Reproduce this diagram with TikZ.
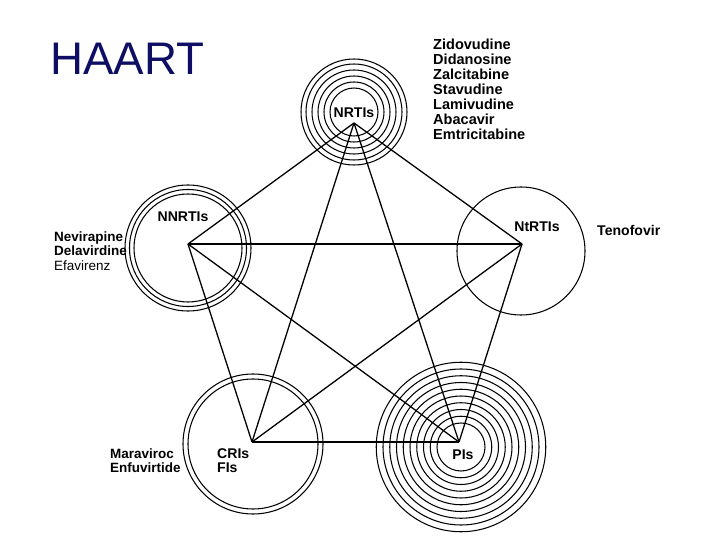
\documentclass[tikz,border=0pt]{standalone}
\usepackage{fontspec}
\setmainfont{Liberation Sans}
\usepackage{xcolor}
\definecolor{haartblue}{RGB}{14,14,100}

\tikzset{
  ring/.style={black, line width=0.9pt},
  link/.style={black, line width=1.1pt},
  drug/.style={inner sep=0pt, anchor=base west, font=\bfseries\fontsize{12}{14}\selectfont},
  cls/.style={inner sep=0pt, anchor=base, font=\bfseries\fontsize{12}{14}\selectfont}
}

\begin{document}
\begin{tikzpicture}[x=0.03cm, y=-0.03cm]
\useasboundingbox (0,0) rectangle (720,540);
\fill[white] (0,0) rectangle (720,540);

\node[inner sep=0pt, anchor=base west, text=haartblue, font=\fontsize{39}{44}\selectfont] (title) at (50,75) {HAART};

% rings round each class
\foreach \r in {24,30,36,42,48,53}
  \draw[ring] (354,112) circle (\r);
\foreach \r in {54,58.5,63}
  \draw[ring] (188,248) circle (\r);
\draw[ring] (521,251) circle (64);
\foreach \k in {0,...,9}
  \draw[ring] (461,447) circle ({24+6.75*\k});
\foreach \r in {65,70}
  \draw[ring] (253,444) circle (\r);

\coordinate (nrti) at (354,123);
\coordinate (nnrti) at (188,244);
\coordinate (ntrti) at (522,244);
\coordinate (cri) at (252,442);
\coordinate (pi) at (459,442);

\foreach \a/\b in {nrti/nnrti,nrti/ntrti,nrti/cri,nrti/pi,nnrti/ntrti,nnrti/cri,nnrti/pi,ntrti/cri,ntrti/pi}
  \draw[link] (\a) -- (\b);
\draw[black, line width=1.9pt] (cri) -- (pi);

\node[cls] (lnrti) at (354,118) {NRTIs};
\node[cls] (lnnrti) at (183,222) {NNRTIs};
\node[cls] (lntrti) at (537,232) {NtRTIs};
\node[cls] (lpi) at (463,459) {PIs};
\node[drug] (lcri) at (217,458) {CRIs};
\node[drug] (lfi) at (217,472) {FIs};

\foreach \d [count=\i] in {Zidovudine,Didanosine,Zalcitabine,Stavudine,Lamivudine,Abacavir,Emtricitabine}
  \node[drug, font=\bfseries\fontsize{12.4}{14}\selectfont] (top\i) at (433,{35+15*\i}) {\d};
\node[drug, font=\bfseries\fontsize{11.5}{13}\selectfont] (nev) at (54,242) {Nevirapine};
\node[drug, font=\bfseries\fontsize{11.5}{13}\selectfont] (dela) at (54,256) {Delavirdine};
\node[drug, font=\fontsize{11.5}{13}\selectfont] (efa) at (54,271) {Efavirenz};
\node[drug] (teno) at (597,236) {Tenofovir};
\node[drug, font=\bfseries\fontsize{11.5}{13}\selectfont] (mara) at (110,458) {Maraviroc};
\node[drug, font=\bfseries\fontsize{11.5}{13}\selectfont] (enfu) at (110,472) {Enfuvirtide};
\end{tikzpicture}
\end{document}
